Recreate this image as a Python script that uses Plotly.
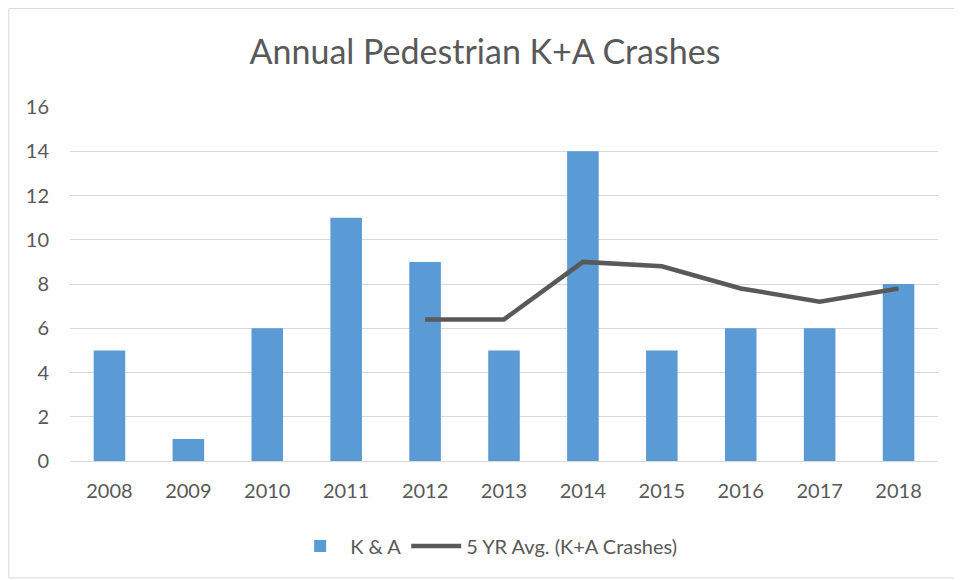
import plotly.graph_objects as go

years = ["2008", "2009", "2010", "2011", "2012", "2013", "2014", "2015", "2016", "2017", "2018"]
ka_crashes = [5, 1, 6, 11, 9, 5, 14, 5, 6, 6, 8]
avg_years = ["2012", "2013", "2014", "2015", "2016", "2017", "2018"]
avg_5yr = [6.4, 6.4, 9.0, 8.8, 7.8, 7.2, 7.8]

font_family = "Lato, 'Open Sans', sans-serif"

fig = go.Figure()
fig.add_trace(go.Bar(
    x=years,
    y=ka_crashes,
    name="K & A",
    marker=dict(color="#5B9BD5", line=dict(width=0)),
    width=0.4,
))
fig.add_trace(go.Scatter(
    x=avg_years,
    y=avg_5yr,
    name="5 YR Avg. (K+A Crashes)",
    mode="lines",
    line=dict(color="#595959", width=4.5),
))

# outer chart border
fig.add_shape(type="rect", xref="paper", yref="paper",
              x0=-0.0705, x1=1.026, y0=-0.33, y1=1.278,
              line=dict(color="#D9D9D9", width=1))

fig.update_layout(
    width=954,
    height=572,
    paper_bgcolor="white",
    plot_bgcolor="white",
    margin=dict(l=62, r=24, t=99, b=119),
    title=dict(text="Annual Pedestrian K+A Crashes", x=0.5, xanchor="center",
               y=0.923, yanchor="middle",
               font=dict(family=font_family, size=34, color="#595959")),
    font=dict(family=font_family, size=20, color="#595959"),
    showlegend=True,
    legend=dict(orientation="h", x=0.48, xanchor="center", y=-0.24, yanchor="middle",
                font=dict(size=20, color="#595959"), itemwidth=50),
    bargap=0.6,
)
fig.update_xaxes(type="category", showgrid=False, showline=True, linecolor="#D9D9D9",
                 ticks="", ticklabelstandoff=12, tickfont=dict(size=20, color="#595959"))
fig.update_yaxes(range=[0, 16], dtick=2, showgrid=True, gridcolor="#D9D9D9", gridwidth=1,
                 zeroline=False, showline=False, ticks="", ticklabelstandoff=20,
                 tickfont=dict(size=20, color="#595959"))

fig.write_html("out.html")
